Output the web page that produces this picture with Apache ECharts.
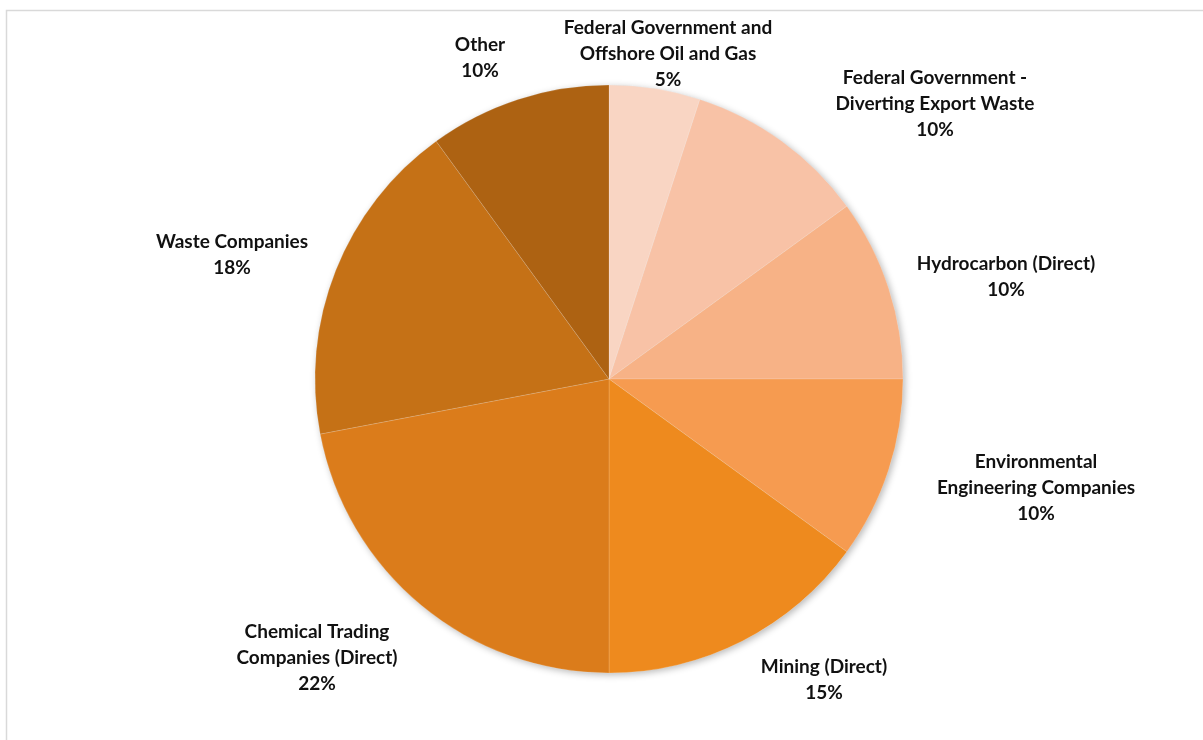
<!DOCTYPE html>
<html lang="en">
<head>
    <meta charset="UTF-8">
    <title>Pie</title>
    <script src="https://cdn.jsdelivr.net/npm/echarts@6/dist/echarts.min.js"></script>
    <style>
        html, body { margin: 0; padding: 0; background: #fff; }
        #main { width: 1203px; height: 740px; }
    </style>
</head>
<body>
<div id="main"></div>
<script>
    // data
    const categories = [
        'Federal Government and\nOffshore Oil and Gas',
        'Federal Government -\nDiverting Export Waste',
        'Hydrocarbon (Direct)',
        'Environmental\nEngineering Companies',
        'Mining (Direct)',
        'Chemical Trading\nCompanies (Direct)',
        'Waste Companies',
        'Other'
    ];
    const shares = [5, 10, 10, 10, 15, 22, 18, 10];
    const sliceColors = ['#f9d5c3', '#f8c2a6', '#f7b286', '#f69b50', '#ee8a1e', '#db7c1b', '#c57116', '#ad6212'];

    // where Excel put each label (centre of text block)
    const labelSpots = [
        [668, 54], [935, 104], [1006, 277], [1036, 488],
        [824, 680], [317, 658], [232, 255], [480, 58]
    ];

    const total = shares.reduce((a, b) => a + b, 0);

    let chart = echarts.init(document.getElementById('main'));
    chart.setOption({
        backgroundColor: '#fff',
        animation: false,
        graphic: [{
            type: 'rect',
            shape: { x: 6.5, y: 10.5, width: 1300, height: 900 },
            style: { fill: 'none', stroke: '#d9d9d9', lineWidth: 1.5 },
            silent: true
        }],
        series: [{
            // shadow disc under the pie
            type: 'pie',
            center: [609, 379],
            radius: 294,
            silent: true,
            z: 1,
            data: [{ value: total }],
            itemStyle: {
                color: '#ddd',
                shadowBlur: 7,
                shadowOffsetX: 2,
                shadowOffsetY: 2,
                shadowColor: 'rgba(0,0,0,0.28)'
            },
            label: { show: false },
            labelLine: { show: false }
        }, {
            type: 'pie',
            center: [609, 379],
            radius: 294,
            startAngle: 90,
            clockwise: true,
            z: 2,
            data: categories.map((c, i) => ({
                name: c,
                value: shares[i],
                itemStyle: { color: sliceColors[i] }
            })),
            itemStyle: {
                borderWidth: 0.6,
                borderColor: 'rgba(255,255,255,0.25)'
            },
            label: {
                show: true,
                position: 'outside',
                formatter: p => p.name + '\n' + p.value + '%',
                fontFamily: 'Lato',
                fontWeight: 'bold',
                fontSize: 19,
                lineHeight: 26,
                color: '#111'
            },
            labelLine: { show: false },
            labelLayout: p => ({
                x: labelSpots[p.dataIndex][0],
                y: labelSpots[p.dataIndex][1],
                align: 'center',
                verticalAlign: 'middle'
            }),
            emphasis: { disabled: true }
        }]
    });
</script>
</body>
</html>
